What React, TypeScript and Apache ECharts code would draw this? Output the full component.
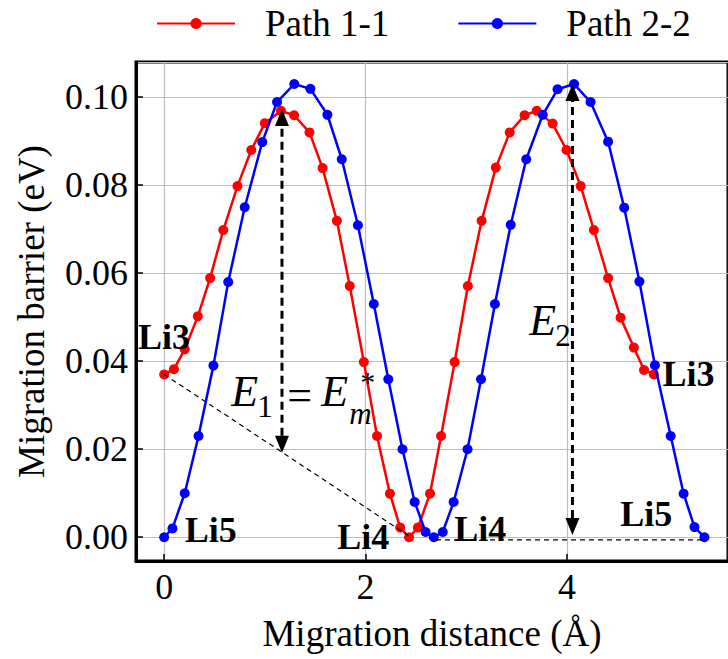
import React, { useEffect, useRef } from "react";
import * as echarts from "echarts";

const FONT = "Liberation Serif, Times New Roman, serif";

const seriesNames = ["Path 1-1", "Path 2-2"];

const path11X = [0, 0.097, 0.204, 0.334, 0.456, 0.587, 0.728, 0.865, 1.0, 1.16, 1.29, 1.443, 1.573, 1.715, 1.843, 1.983, 2.114, 2.242, 2.344, 2.432, 2.52, 2.64, 2.75, 2.885, 3.016, 3.153, 3.294, 3.432, 3.58, 3.7, 3.858, 3.996, 4.137, 4.268, 4.409, 4.533, 4.665, 4.766, 4.864];
const path11Y = [0.037, 0.0382, 0.0427, 0.0502, 0.0589, 0.0698, 0.0798, 0.088, 0.0941, 0.0969, 0.0959, 0.092, 0.0839, 0.0719, 0.0571, 0.0398, 0.023, 0.0099, 0.0022, 0.0, 0.0022, 0.0099, 0.023, 0.0398, 0.0571, 0.0719, 0.084, 0.092, 0.0959, 0.0969, 0.094, 0.088, 0.0798, 0.0698, 0.0589, 0.0499, 0.0431, 0.038, 0.037];

const path22X = [0, 0.082, 0.204, 0.341, 0.489, 0.636, 0.8, 0.974, 1.121, 1.292, 1.452, 1.621, 1.764, 1.924, 2.082, 2.226, 2.367, 2.488, 2.596, 2.678, 2.767, 2.875, 3.013, 3.147, 3.285, 3.442, 3.596, 3.76, 3.907, 4.071, 4.235, 4.409, 4.569, 4.72, 4.874, 5.031, 5.159, 5.267, 5.366];
const path22Y = [0, 0.002, 0.01, 0.023, 0.039, 0.058, 0.075, 0.0898, 0.0989, 0.103, 0.1019, 0.096, 0.0859, 0.0709, 0.053, 0.0359, 0.02, 0.008, 0.0012, 0, 0.0012, 0.008, 0.02, 0.0359, 0.053, 0.071, 0.0859, 0.096, 0.1018, 0.103, 0.0989, 0.0899, 0.0749, 0.0581, 0.0391, 0.023, 0.0099, 0.0023, 0];

const xRange = [-0.28, 5.6];
const yRange = [-0.0054, 0.108];
const xStep = 2;
const yStep = 0.02;

// site labels: [text, x(left edge), y(center)]
const siteLabels: [string, number, number][] = [
  ["Li3", -0.26, 0.0455],
  ["Li5", 0.205, 0.0016],
  ["Li4", 1.72, 0.0],
  ["Li4", 2.88, 0.0018],
  ["Li3", 4.95, 0.037],
  ["Li5", 4.53, 0.0052],
];

// double arrows: [x, yBottom, yTop]
const barrierArrows: [number, number, number][] = [
  [1.17, 0.0192, 0.0973],
  [4.055, 0.0005, 0.103],
];

// thin dashed reference lines: [x1, y1, x2, y2]
const guideLines: [number, number, number, number][] = [
  [0, 0.037, 2.45, 0],
  [2.7, -0.0006, 5.366, -0.0006],
];

const toPairs = (xs: number[], ys: number[]) => xs.map((x, i) => [x, ys[i]]);

export default function App() {
  const ref = useRef<HTMLDivElement>(null);

  useEffect(() => {
    if (!ref.current) return;
    const chart = echarts.init(ref.current, null, { renderer: "svg" });

    const option: any = {
      animation: false,
      backgroundColor: "#fff",
      legend: {
        left: 151,
        top: 0,
        itemWidth: 78,
        itemHeight: 14,
        itemGap: 68,
        data: seriesNames,
        textStyle: {
          fontFamily: FONT,
          fontSize: 37,
          color: "#000",
          padding: [0, 0, 0, 25],
        },
      },
      grid: {
        left: 136,
        top: 62,
        width: 598,
        height: 499,
        show: true,
        borderColor: "#000",
        borderWidth: 3,
        backgroundColor: "transparent",
      },
      xAxis: {
        type: "value",
        min: xRange[0],
        max: xRange[1],
        minInterval: xStep,
        maxInterval: xStep,
        name: "Migration distance (Å)",
        nameLocation: "middle",
        nameGap: 54,
        nameTextStyle: { fontFamily: FONT, fontSize: 37, color: "#000" },
        axisLine: { show: true, onZero: false, lineStyle: { color: "#000", width: 3 } },
        axisTick: { show: true, inside: true, length: 7, lineStyle: { color: "#000", width: 1.5 } },
        axisLabel: {
          fontFamily: FONT,
          fontSize: 36,
          color: "#000",
          margin: 8,
          showMinLabel: false,
          showMaxLabel: false,
          formatter: (v: number) => String(Math.round(v)),
        },
        splitLine: { show: true, lineStyle: { color: "#bdbdbd", width: 1.2 } },
      },
      yAxis: {
        type: "value",
        min: yRange[0],
        max: yRange[1],
        minInterval: yStep,
        maxInterval: yStep,
        name: "Migration barrier (eV)",
        nameLocation: "middle",
        nameGap: 86,
        nameTextStyle: { fontFamily: FONT, fontSize: 37, color: "#000" },
        axisLine: { show: true, onZero: false, lineStyle: { color: "#000", width: 3 } },
        axisTick: { show: true, inside: true, length: 7, lineStyle: { color: "#000", width: 1.5 } },
        axisLabel: {
          fontFamily: FONT,
          fontSize: 36,
          color: "#000",
          margin: 8,
          showMinLabel: false,
          showMaxLabel: false,
          formatter: (v: number) => v.toFixed(2),
        },
        splitLine: { show: true, lineStyle: { color: "#bdbdbd", width: 1.2 } },
      },
      series: [
        {
          name: seriesNames[0],
          type: "line",
          data: toPairs(path11X, path11Y),
          symbol: "circle",
          symbolSize: 10,
          color: "#ff0000",
          lineStyle: { color: "#ff0000", width: 2.5 },
          itemStyle: { color: "#ff0000" },
          z: 3,
        },
        {
          name: seriesNames[1],
          type: "line",
          data: toPairs(path22X, path22Y),
          symbol: "circle",
          symbolSize: 10,
          color: "#0000ff",
          lineStyle: { color: "#0000ff", width: 2.5 },
          itemStyle: { color: "#0000ff" },
          z: 4,
        },
      ],
    };
    chart.setOption(option);

    const px = (x: number, y: number) => chart.convertToPixel({ gridIndex: 0 }, [x, y]) as number[];
    const graphics: any[] = [];

    guideLines.forEach(([x1, y1, x2, y2]) => {
      const a = px(x1, y1);
      const b = px(x2, y2);
      graphics.push({
        type: "line",
        z: 50,
        shape: { x1: a[0], y1: a[1], x2: b[0], y2: b[1] },
        style: { stroke: "#000", lineWidth: 1.2, lineDash: [5, 4] },
      });
    });

    const headH = 17;
    const headW = 14;
    barrierArrows.forEach(([x, yb, yt]) => {
      const b = px(x, yb);
      const t = px(x, yt);
      graphics.push({
        type: "line",
        z: 60,
        shape: { x1: b[0], y1: b[1] - headH, x2: t[0], y2: t[1] + headH },
        style: { stroke: "#000", lineWidth: 3, lineDash: [8, 5] },
      });
      graphics.push({
        type: "polygon",
        z: 60,
        shape: { points: [[t[0], t[1]], [t[0] - headW / 2, t[1] + headH], [t[0] + headW / 2, t[1] + headH]] },
        style: { fill: "#000" },
      });
      graphics.push({
        type: "polygon",
        z: 60,
        shape: { points: [[b[0], b[1]], [b[0] - headW / 2, b[1] - headH], [b[0] + headW / 2, b[1] - headH]] },
        style: { fill: "#000" },
      });
    });

    siteLabels.forEach(([text, x, y]) => {
      const p = px(x, y);
      graphics.push({
        type: "text",
        z: 70,
        x: p[0],
        y: p[1],
        style: {
          text,
          fontFamily: FONT,
          fontSize: 36,
          fontWeight: "bold",
          fill: "#000",
          align: "left",
          verticalAlign: "middle",
        },
      });
    });

    // E1 = E*_m and E2 annotations
    const e1 = px(0.666, 0.0332);
    const e2 = px(3.625, 0.0493);
    const txt = (x: number, y: number, text: string, size: number, italic: boolean) => ({
      type: "text",
      z: 70,
      x,
      y,
      style: {
        text,
        fontFamily: FONT,
        fontSize: size,
        fontStyle: italic ? "italic" : "normal",
        fill: "#000",
        align: "left",
        verticalAlign: "middle",
      },
    });
    graphics.push(txt(e1[0], e1[1], "E", 44, true));
    graphics.push(txt(e1[0] + 26, e1[1] + 15, "1", 31, false));
    graphics.push(txt(e1[0] + 56, e1[1] + 4, "=", 44, false));
    graphics.push(txt(e1[0] + 90, e1[1], "E", 44, true));
    graphics.push(txt(e1[0] + 118, e1[1] + 22, "m", 31, true));
    graphics.push(txt(e1[0] + 129, e1[1] - 10, "*", 30, false));
    graphics.push(txt(e2[0], e2[1], "E", 44, true));
    graphics.push(txt(e2[0] + 26, e2[1] + 15, "2", 31, false));

    chart.setOption({ graphic: graphics });

    return () => chart.dispose();
  }, []);

  return (
    <div
      ref={ref}
      style={{ position: "fixed", left: 0, top: 0, width: 728, height: 659, background: "#fff" }}
    />
  );
}
